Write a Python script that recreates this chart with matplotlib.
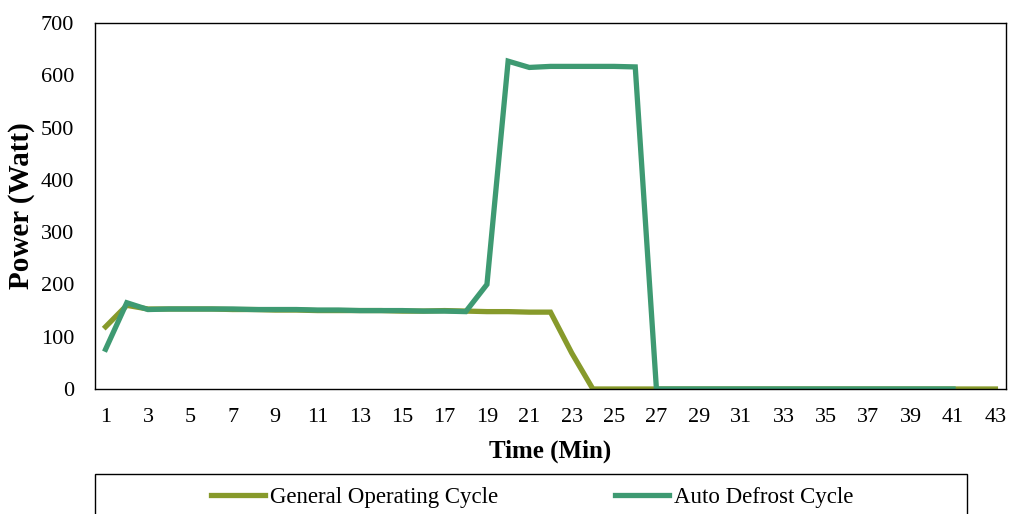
import matplotlib
matplotlib.use("Agg")
import matplotlib.pyplot as plt
from matplotlib.patches import Rectangle

plt.rcParams['font.family'] = ['Liberation Serif', 'DejaVu Serif']

minutes = list(range(1, 44))
general = [119, 160, 153, 153, 153, 153, 152, 152, 151, 151, 150, 150, 150, 150,
           149, 149, 150, 149, 148, 148, 147, 147, 69] + [0] * 20
defrost = [76, 165, 152, 153, 153, 153, 153, 152, 152, 152, 151, 151, 150, 150,
           150, 149, 149, 148, 200, 627, 615, 617, 617, 617, 617, 616] + [0] * 15
tick_labels = [str(m) for m in range(1, 44, 2)]

W, H = 1014, 514
fig = plt.figure(figsize=(W / 100, H / 100), dpi=100)
ax_h = 389 - 23
ax_w = 1006 - 95
ax = fig.add_axes([95 / W, 1 - 389 / H, ax_w / W, ax_h / H])

c_gen = '#879A2B'
c_def = '#3E9A72'
ax.plot(minutes, general, color=c_gen, lw=3.8, solid_joinstyle='miter',
        label='General Operating Cycle')
ax.plot(minutes[:len(defrost)], defrost, color=c_def, lw=3.8, solid_joinstyle='miter',
        label='Auto Defrost Cycle')

ax.set_xlim(0.5, 43.5)
ax.set_ylim(0, 700)
ax.set_yticks(range(0, 701, 100))
ax.set_xticks(range(1, 44, 2))
ax.set_xticklabels(tick_labels)
ax.tick_params(axis='both', length=0, labelsize=16)
ax.tick_params(axis='y', pad=15)
ax.tick_params(axis='x', pad=13.5)
for s in ax.spines.values():
    s.set_color('black')
    s.set_linewidth(1)

ax.set_xlabel('Time (Min)', fontsize=18, fontweight='bold')
ax.xaxis.set_label_coords(0.5, -(440 - 389) / ax_h)
ax.set_ylabel('Power (Watt)', fontsize=21, fontweight='bold')
ax.yaxis.set_label_coords(-(95 - 35) / ax_w, 0.5)

fig.add_artist(Rectangle((95 / W, 1 - 540 / H), (967 - 95) / W, (540 - 474) / H,
                         transform=fig.transFigure, fill=False, edgecolor='black',
                         lw=1, clip_on=False))
fig.legend(loc='center', bbox_to_anchor=(532 / W, 1 - 497 / H), frameon=False, ncol=2,
           handlelength=2.35, handletextpad=0.22, columnspacing=5.1, fontsize=16.5)

fig.savefig('out.png', dpi=100)
